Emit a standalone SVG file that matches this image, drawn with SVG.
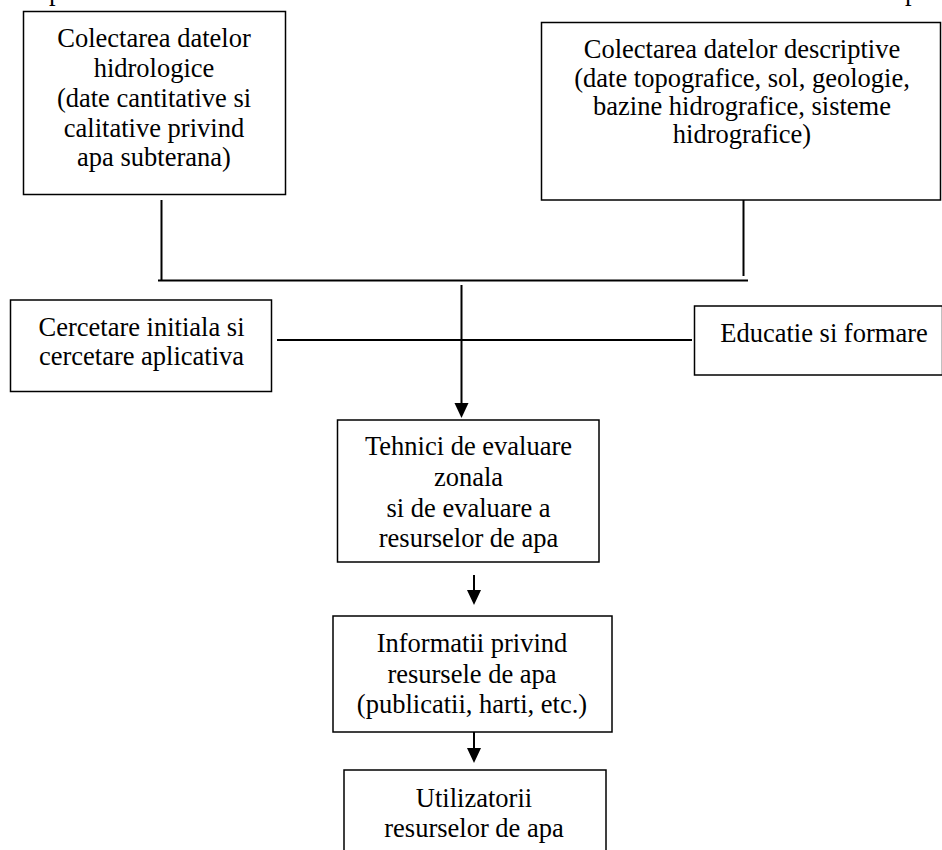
<svg xmlns="http://www.w3.org/2000/svg" width="942" height="850" viewBox="0 0 942 850">
  <style>
    .box { fill: #ffffff; stroke: #000000; stroke-width: 1.5; }
    .txt { font-family: "Liberation Serif", "Times New Roman", serif; font-size: 26.5px; fill: #000000; text-anchor: middle; }
    .frag { font-family: "Liberation Serif", "Times New Roman", serif; font-size: 26.5px; fill: #000000; }
    .wire { fill: none; stroke: #000000; stroke-width: 2; }
  </style>
  <rect width="942" height="850" fill="#ffffff"/>

  <!-- tail of the line above, cut at the top edge -->
  <text class="frag" x="49" y="0">p</text>
  <text class="frag" x="905" y="0">p</text>

  <g id="connectors">
    <line class="wire" x1="161.5" y1="200" x2="161.5" y2="280.5"/>
    <line class="wire" x1="743.5" y1="200" x2="743.5" y2="276"/>
    <line class="wire" x1="158" y1="280.5" x2="748" y2="280.5"/>
    <line class="wire" x1="277" y1="340" x2="692" y2="340"/>
    <line class="wire" x1="461.5" y1="285" x2="461.5" y2="404"/>
    <path d="M454.5,403 L468.5,403 L461.5,418 Z" fill="#000000"/>
    <line class="wire" x1="474" y1="575" x2="474" y2="591"/>
    <path d="M467,590 L481,590 L474,605 Z" fill="#000000"/>
    <line class="wire" x1="474" y1="732" x2="474" y2="749"/>
    <path d="M467,748 L481,748 L474,763 Z" fill="#000000"/>
  </g>

  <g id="node-hidrologice">
    <rect class="box" x="23.5" y="11.5" width="262" height="183"/>
    <text class="txt" x="154" y="47">Colectarea datelor</text>
    <text class="txt" x="154" y="77">hidrologice</text>
    <text class="txt" x="154" y="107">(date cantitative si</text>
    <text class="txt" x="154" y="137">calitative privind</text>
    <text class="txt" x="154" y="166">apa subterana)</text>
  </g>

  <g id="node-descriptive">
    <rect class="box" x="541.5" y="22.5" width="399" height="177.5"/>
    <text class="txt" x="742" y="58">Colectarea datelor descriptive</text>
    <text class="txt" x="742" y="87">(date topografice, sol, geologie,</text>
    <text class="txt" x="742" y="115">bazine hidrografice, sisteme</text>
    <text class="txt" x="742" y="143">hidrografice)</text>
  </g>

  <g id="node-cercetare">
    <rect class="box" x="10.5" y="300" width="261" height="91.5"/>
    <text class="txt" x="141.5" y="336">Cercetare initiala si</text>
    <text class="txt" x="141.5" y="365">cercetare aplicativa</text>
  </g>

  <g id="node-educatie">
    <rect class="box" x="694.5" y="306" width="248" height="69"/>
    <text class="txt" x="824" y="342">Educatie si formare</text>
  </g>

  <g id="node-tehnici">
    <rect class="box" x="337.5" y="420" width="261.5" height="142"/>
    <text class="txt" x="468.5" y="455">Tehnici de evaluare</text>
    <text class="txt" x="468.5" y="486">zonala</text>
    <text class="txt" x="468.5" y="517">si de evaluare a</text>
    <text class="txt" x="468.5" y="547">resurselor de apa</text>
  </g>

  <g id="node-informatii">
    <rect class="box" x="333" y="616" width="279" height="116"/>
    <text class="txt" x="472" y="652">Informatii privind</text>
    <text class="txt" x="472" y="683">resursele de apa</text>
    <text class="txt" x="472" y="713">(publicatii, harti, etc.)</text>
  </g>

  <g id="node-utilizatorii">
    <rect class="box" x="344" y="770" width="262" height="90"/>
    <text class="txt" x="474" y="807">Utilizatorii</text>
    <text class="txt" x="474" y="837">resurselor de apa</text>
  </g>
</svg>
